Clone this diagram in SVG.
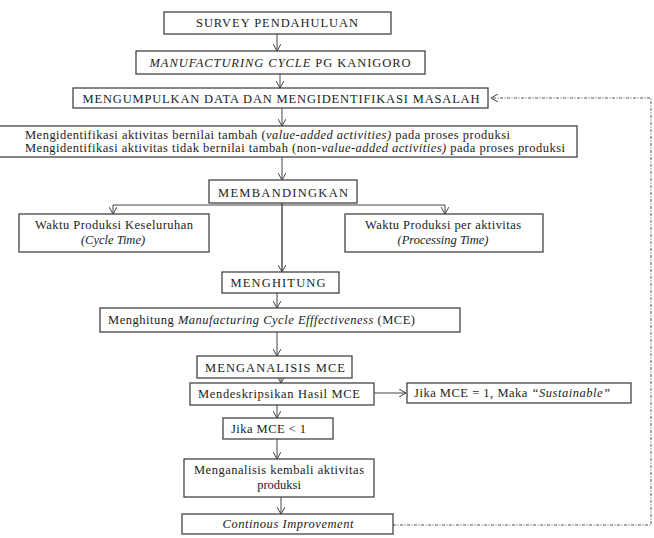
<svg xmlns="http://www.w3.org/2000/svg" width="654" height="538" viewBox="0 0 654 538">
<style>
.box{fill:#fff;stroke:#444;stroke-width:1.3}
.t{font-size:12.5px;fill:#222}
.c{text-anchor:middle}
.i{font-style:italic}
.ln{fill:none;stroke:#444;stroke-width:1}
.dash{fill:none;stroke:#555;stroke-width:1;stroke-dasharray:3 1.5 1 1.5}
</style>
<defs>
<marker id="ah" markerWidth="8" markerHeight="8" refX="7" refY="4" orient="auto" markerUnits="userSpaceOnUse">
<path d="M0,0 L7,4 L0,8" fill="none" stroke="#444" stroke-width="1"/>
</marker>
</defs>
<rect width="654" height="538" fill="#fff"/>
<g id="connectors">
<line class="ln" x1="277" y1="34" x2="277" y2="51" marker-end="url(#ah)"/>
<line class="ln" x1="280" y1="74" x2="280" y2="88" marker-end="url(#ah)"/>
<line class="ln" x1="282" y1="108" x2="282" y2="126" marker-end="url(#ah)"/>
<line class="ln" x1="282" y1="157" x2="282" y2="180" marker-end="url(#ah)"/>
<line class="ln" x1="282" y1="203" x2="282" y2="272" marker-end="url(#ah)" style="stroke-width:1.4"/>
<polyline class="ln" points="113,205 445,205"/>
<line class="ln" x1="113" y1="205" x2="113" y2="214" marker-end="url(#ah)"/>
<line class="ln" x1="445" y1="205" x2="445" y2="214" marker-end="url(#ah)"/>
<line class="ln" x1="277" y1="293" x2="277" y2="308" marker-end="url(#ah)"/>
<line class="ln" x1="277" y1="332" x2="277" y2="356" marker-end="url(#ah)"/>
<line class="ln" x1="281" y1="378" x2="281" y2="383" marker-end="url(#ah)"/>
<line class="ln" x1="374" y1="393" x2="406" y2="393" marker-end="url(#ah)"/>
<line class="ln" x1="277" y1="405" x2="277" y2="418" marker-end="url(#ah)"/>
<line class="ln" x1="277" y1="439" x2="277" y2="459" marker-end="url(#ah)"/>
<line class="ln" x1="281" y1="497" x2="281" y2="514" marker-end="url(#ah)"/>
<polyline class="dash" points="393,525 651,525 651,98 491,98" marker-end="url(#ah)"/>
</g>
<g font-family="'Liberation Serif', 'Noto Serif', 'DejaVu Serif', 'Times New Roman', serif">
<g id="n1">
<rect class="box" x="164" y="12" width="227" height="22"/>
<text class="t c" x="277" y="27" textLength="162">SURVEY PENDAHULUAN</text>
</g>
<g id="n2">
<rect class="box" x="136" y="51" width="289" height="23"/>
<text class="t c" x="280" y="67" textLength="261"><tspan class="i">MANUFACTURING  CYCLE</tspan> PG KANIGORO</text>
</g>
<g id="n3">
<rect class="box" x="73" y="88" width="415" height="20"/>
<text class="t c" x="281" y="103" textLength="397">MENGUMPULKAN DATA DAN MENGIDENTIFIKASI MASALAH</text>
</g>
<g id="n4">
<rect class="box" x="-5" y="126" width="582" height="31"/>
<text class="t" x="25" y="139" textLength="485">Mengidentifikasi aktivitas bernilai tambah (<tspan class="i">value-added activities)</tspan> pada proses produksi</text>
<text class="t" x="25" y="152" textLength="540">Mengidentifikasi aktivitas tidak bernilai tambah (non-<tspan class="i">value-added activities)</tspan> pada proses produksi</text>
</g>
<g id="n5">
<rect class="box" x="209" y="180" width="148" height="23"/>
<text class="t c" x="283" y="197" textLength="130">MEMBANDINGKAN</text>
</g>
<g id="n6">
<rect class="box" x="19" y="214" width="190" height="38"/>
<text class="t c" x="114" y="229" textLength="158">Waktu Produksi Keseluruhan</text>
<text class="t c i" x="113" y="244">(Cycle Time)</text>
</g>
<g id="n7">
<rect class="box" x="345" y="214" width="198" height="38"/>
<text class="t c" x="443" y="229" textLength="156">Waktu Produksi per aktivitas</text>
<text class="t c i" x="443" y="244">(Processing  Time)</text>
</g>
<g id="n8">
<rect class="box" x="222" y="272" width="117" height="21"/>
<text class="t c" x="278" y="287" textLength="95">MENGHITUNG</text>
</g>
<g id="n9">
<rect class="box" x="100" y="308" width="360" height="24"/>
<text class="t" x="108" y="324" textLength="307">Menghitung <tspan class="i">Manufacturing  Cycle  Efffectiveness</tspan>  (MCE)</text>
</g>
<g id="n10">
<rect class="box" x="197" y="356" width="155" height="22"/>
<text class="t c" x="275" y="372" textLength="140">MENGANALISIS MCE</text>
</g>
<g id="n11">
<rect class="box" x="190" y="383" width="184" height="22"/>
<text class="t" x="198" y="398" textLength="162">Mendeskripsikan  Hasil MCE</text>
</g>
<g id="n12">
<rect class="box" x="407" y="383" width="224" height="20"/>
<text class="t" x="414" y="397" textLength="196">Jika MCE = 1, Maka  <tspan class="i">“Sustainable”</tspan></text>
</g>
<g id="n13">
<rect class="box" x="223" y="418" width="110" height="21"/>
<text class="t" x="231" y="433" textLength="75">Jika MCE &lt; 1</text>
</g>
<g id="n14">
<rect class="box" x="184" y="459" width="190" height="38"/>
<text class="t c" x="279" y="474" textLength="170">Menganalisis kembali aktivitas</text>
<text class="t c" x="279" y="489">produksi</text>
</g>
<g id="n15">
<rect class="box" x="182" y="514" width="211" height="20"/>
<text class="t c i" x="288" y="528" textLength="131">Continous Improvement</text>
</g>
</g>
</svg>
